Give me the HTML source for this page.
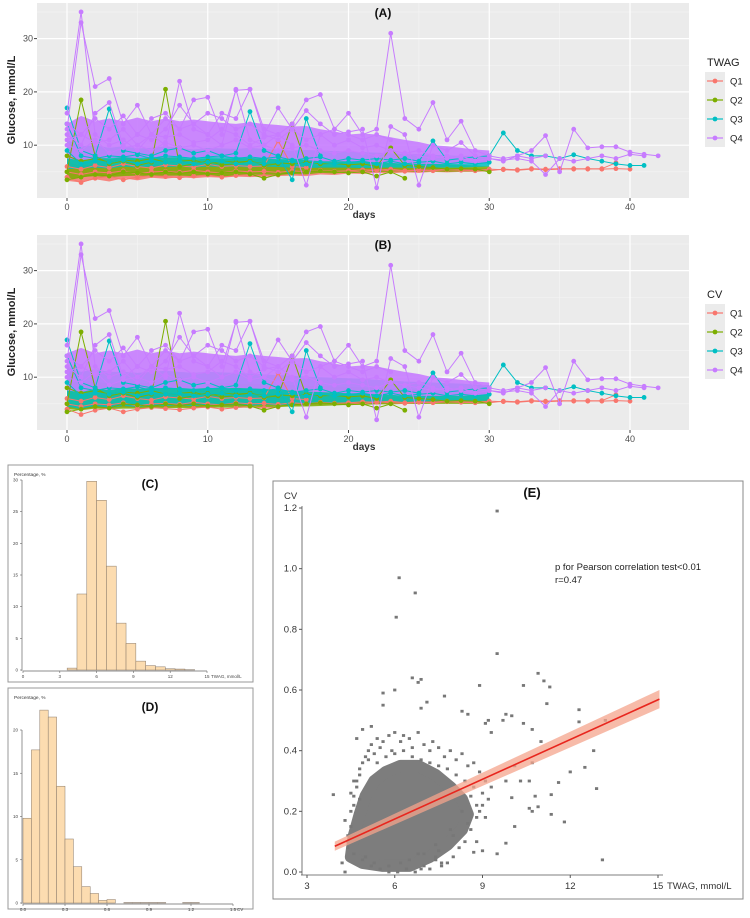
<!DOCTYPE html>
<html><head><meta charset="utf-8">
<style>
html,body{margin:0;padding:0;background:#fff;}
svg{display:block;font-family:"Liberation Sans",sans-serif;}
</style></head>
<body>
<svg id="fig" width="750" height="918" viewBox="0 0 750 918"></svg>
<script>
// ---------- data: panels A/B (glucose trajectories) ----------
const quartiles = ['Q1','Q2','Q3','Q4'];
const qColors = ['#F8766D','#7CAE00','#00BFC4','#C77CFF'];
const envDays = [0,1,2,3,4,5,6,7,8,9,10,11,12,13,14,15,16,17,18,19,20,21,22,23,24,25,26,27,28,29,30];
// density envelopes (panel A, TWAG groups)
const aLo = [
 [3.3,3.0,3.6,3.2,3.8,3.4,3.9,3.7,4.0,3.8,4.0,3.9,4.1,4.0,4.1,4.2,4.3,4.2,4.5,4.4,4.7,4.6,4.8,4.7,4.9,4.8,5.0,4.9,5.0,5.0,5.1],
 [3.6,4.0,4.2,4.0,4.2,4.3,4.2,4.3,4.3,4.2,4.3,4.1,4.3,4.4,4.5,4.4,4.6,4.5,4.8,4.7,5.0,4.9,5.0,5.0,5.0,5.0,5.1,5.0,5.1,5.1,5.2],
 [5.5,5.6,5.8,5.6,6.0,5.8,6.0,5.9,6.0,5.8,6.0,5.9,6.0,5.8,6.0,5.9,5.8,5.7,5.8,5.8,5.8,5.7,5.8,5.8,5.8,5.7,5.8,5.8,5.8,5.9,6.0]];
const aHi = [
 [6.8,6.2,6.5,6.0,6.3,6.1,6.2,6.3,6.2,6.0,6.2,6.1,6.2,6.0,6.0,6.1,6.0,5.9,6.0,6.0,6.0,5.9,5.9,5.8,5.8,5.8,5.8,5.7,5.7,5.7,5.6],
 [8.5,7.6,8.0,7.4,7.8,7.5,7.6,7.8,7.6,7.3,7.5,7.4,7.5,7.6,7.5,7.3,7.3,7.2,7.2,7.1,7.0,7.0,7.0,6.9,6.8,6.7,6.5,6.4,6.3,6.2,6.0],
 [11,9.8,10,9.5,9.8,9.4,9.5,9.8,9.5,9.2,9.5,9.4,9.3,9.5,9.3,9.1,9.0,9.1,9.0,8.9,8.8,8.7,8.6,8.5,8.4,8.3,8.2,8.1,8.0,8.0,8.0],
 [14,15.5,14.5,15,14.5,15.2,14.5,15,14.5,14.8,14.5,14.2,14,14.3,14,13.8,13.5,13.6,13,12.6,12,12.2,12,11.5,11,10.6,10,9.8,9.5,9.2,9]];
const aQ4Lo = [7.5,7.2,7.5,7.6,7.8,7.6,7.8,7.7,7.8,7.6,7.8,7.7,7.8,7.6,7.5,7.4,7.5,7.2,7,7,7,6.9,6.8,6.7,6.5,6.5,6.5,6.5,6.5,6.6,6.8];
// density envelopes (panel B, CV groups)
const bLo = [
 [4.3,4.0,4.3,4.2,4.4,4.3,4.4,4.4,4.5,4.4,4.5,4.5,4.6,4.6,4.7,4.7,4.8,4.8,4.9,4.9,5,5,5,5,5,5,5.1,5.1,5.1,5.1,5.2],
 [4.0,3.8,4.1,4.0,4.1,4.1,4.2,4.2,4.2,4.2,4.3,4.3,4.3,4.3,4.4,4.4,4.5,4.5,4.6,4.7,4.8,4.8,4.9,4.9,5,5,5,5,5,5,5.1],
 [4.5,4.0,4.5,4.2,4.6,4.4,4.7,4.6,4.7,4.6,4.8,4.7,4.8,4.6,4.9,4.7,5,5.1,5.2,5.2,5.3,5.3,5.4,5.4,5.4,5.4,5.5,5.5,5.5,5.5,5.6]];
const bHi = [
 [7.5,7.0,7.3,7.0,7.2,7.0,7.0,7.1,7.0,6.9,7,6.9,6.9,6.8,6.8,6.8,6.7,6.7,6.6,6.6,6.5,6.5,6.4,6.3,6.2,6.1,6,6,6,5.9,5.8],
 [9.5,8.8,9.2,8.8,9,8.8,9,9.1,9,8.8,9,8.9,8.8,8.8,8.7,8.6,8.5,8.4,8.3,8.3,8.2,8.1,8,7.9,7.8,7.7,7.6,7.5,7.4,7.3,7.2],
 [12,11,11.5,11,11,10.8,11,11.2,11,10.8,11,10.9,10.8,10.7,10.5,10.4,10.3,10.1,10,9.9,9.8,9.7,9.5,9.4,9.2,9.1,9,8.9,8.8,8.6,8.5],
 [14.5,15.5,14.5,15,14.5,15.2,14.5,15,14.5,14.8,14.5,14.2,14,14.3,14,13.8,13.5,13.6,13,12.6,12,12.2,12,11.5,11,10.6,10,9.8,9.5,9.2,9]];
const bQ4Lo = [7.5,7.2,7.8,7.6,8,7.8,8,7.9,8,7.8,8,7.9,8,7.9,7.8,7.6,7.5,7.3,7.2,7.1,7,6.9,6.8,6.7,6.5,6.5,6.5,6.5,6.5,6.6,6.8];
// individual trajectories: start day + consecutive daily values
const trajQ1 = [
 {s:0,v:[5,4.5,5,4.8,5.2,4.6,5,5.1,4.9,5.3,5,4.8,5.2,5,5.1,4.9,5.2,5,5.3,5.1,5.2,5,5.4,5.2,5.1,5.3,5.2,5.4,5.3,5.2,5.5,5.4,5.3,5.5,5.4,5.5,5.6,5.5,5.6,6.7]},
 {s:0,v:[4,3,3.8,4.2,3.5,4,4.3,4.1,3.9,4.2,4.4,4,4.3,4.5,4.2,4.4]},
 {s:0,v:[6,5.5,6.2,5.8,6.5,6,5.7,6.3,6.1,5.9,6.4,6,6.2,6,6.1,10.8,6,5.8]},
 {s:20,v:[5.2,5.4,5.3,5.5,5.2,5.4,5.3,5.5,5.4,5.3,5.2,5.5,5.4,5.6,5.5,5.6,5.5,5.6,5.5,5.6,5.5]}];
const trajQ2 = [
 {s:0,v:[5,18.5,8,6.5,7,6.2,6.8,20.5,6,6.5,7,6.3,6.5,7,6.2,6.5,14,6.5]},
 {s:0,v:[3.5,4,4.5,4.2,5,4.8,4.5,5,4.7,5,4.6,4.8,5,4.6,3.8,4.5,4.8,5,5.2,5,4.8,5,4.2,5,3.8]},
 {s:0,v:[8,7,7.5,6.8,7.2,7,7.5,6.8,7,7.2,6.5,7,6.8,7,6.5,6.7,6.5,6.8,6.5,6.6,6.3,6.5,6,9.5,6.2,6,5.8,5.5,5.6,5.5,5]}];
const trajQ3 = [
 {s:0,v:[17,9,8,16.8,9,8.5,8,9,9.5,8.5,9,8,8.5,16.3,9,8,3.5,15,8]},
 {s:0,v:[14,8,7.5,8,7.8,8.2,7.5,8,7.8,7.5,7.8,8,7.5,7.8,7.5,7.8,7.2,7.5,7.8,7,7.5,7.2,7.5,7.2,7.5,7,10.8,7.2,7.5,7.8,8,12.3,9,8,8,7.5,8.2,7.5,7,6.5,6.2,6.2]},
 {s:0,v:[9,6.5,7,6.8,7.2,6.5,7,6.8,7,6.5,6.8,7,6.5,6.8,6.5,6.8,7,6.5,6.8,6.5,6.8,7,6.5,7,6.5,6.8,7,6.5,6.8,6.5,6.8]}];
const trajQ4 = [
 {s:0,v:[16,35,12,10,11,9,12,10,22,13,12,10,20.5,11,10,12]},
 {s:0,v:[13,33,21,22.5,14,17.5,12,15,13,18.5,19,12,20.3,20.5,13,12,14,18.5,19.5,13,16,12,13,31,15,13,18,11,14.5,9,8,7.5,8,9,11.8,5,13,9.5,9.7,9.7,8.7,8.3,8]},
 {s:0,v:[12,10,16,18,10,12,11,13,17.5,14,12,16,15,20.5,12,11,13,16.5,14,12,12.5,13,2,13.5,12,2.5,10,9,10.5,8,7.5,7,8,7.5,8]},
 {s:0,v:[11,12,10.5,11,13,10,12,11.5,12,10.5,11,13,12,10,11.5,12,10,2.5,12,10,11,9.5,10,9,8.5,9,8,7.5,8,7,7.5]},
 {s:0,v:[10,9,11,8.5,9.5,10,9,10.5,9.5,10,9,10,11,9.5,10,9,9.5,10,9,8.5,9,8.5,8,9,8.5,8,7.5,8,7.5,7,7.5,7.2,7.5,7,4.5,7.5,7,7.5,8,7.5,8.3,8]},
 {s:0,v:[14,12,15,13,15.5,12,15,16,13,14,16,15,13,14,12,17,13,11,12,13,12,11,12,11]}];
const trajs = [trajQ1,trajQ2,trajQ3,trajQ4];
const xTicksDays = [0,10,20,30,40];
const yTicksGlu = [10,20,30];

// ---------- data: histograms C, D ----------
const histCStart = 3.6, histCWidth = 0.8;
const histCPct = [0.3,12,29.8,26.8,16.4,7.4,4.2,1.4,0.7,0.5,0.2,0.15,0.05];
const histCTicks = [0,3,6,9,12,15];
const histCYTicks = [0,5,10,15,20,25,30];
const histDStart = 0, histDWidth = 0.06;
const histDPct = [9.8,17.7,22.3,21.5,13.5,7.4,4.2,1.9,1.1,0.3,0.4,0,0.05,0.05,0.05,0.05,0.05,0,0,0.05,0.05];
const histDTicks = [0,0.3,0.6,0.9,1.2,1.5];
const histDYTicks = [0,5,10,15,20];

// ---------- data: scatter E ----------
const eX = [9.5,6.15,6.7,6.05,9.5,10.9,11.1,10.4,11.3,8.9,6.6,6.9,6.8,6.0,5.6,11.2,7.7,12.3,12.3,13.2,12.8,12.5,12.0,12.9,11.6,11.35,11.35,11.8,13.1,10.1,9.5,9.8,10.6,10.9,10.7,10.0,10.8,10.4,10.7,11.0,9.8,10.0,9.7,9.2,8.3,8.5,7.1,6.9,5.6,5.2,4.7,4.9,3.9,4.3,4.2,10.7,10.3,10.6,10.1,9.8,9.1,9.3,8.8,9.0,8.7,7.6,7.4,6.9,
 4.3,4.4,4.5,4.4,4.6,4.5,4.7,4.6,4.8,4.7,4.9,5.0,5.1,5.2,5.3,5.4,5.5,5.6,5.8,5.9,6.0,6.2,6.3,6.5,6.6,6.8,7.0,7.2,7.3,7.5,7.7,7.9,8.1,8.3,8.5,8.7,8.9,9.1,9.3,9.0,8.8,8.6,8.4,8.2,8.0,7.8,7.6,7.4,7.2,7.0,6.7,6.4,6.1,5.8,5.5,5.2,4.9,4.6,4.5,4.8,5.1,5.4,5.7,6.0,6.3,6.6,6.9,7.2,7.5,7.8,8.1,8.4,8.7,9.0,9.2,8.9,8.5,8.0,7.5,7.0,6.5,5.0,5.3,5.8,6.2,6.8,7.4,7.9,8.3,8.6,8.8,9.1,4.4,4.6,4.8,5.0],
eY = [1.19,0.97,0.92,0.84,0.72,0.655,0.63,0.615,0.61,0.615,0.64,0.635,0.625,0.6,0.59,0.555,0.58,0.535,0.495,0.5,0.4,0.345,0.33,0.275,0.295,0.255,0.19,0.165,0.04,0.15,0.06,0.095,0.21,0.215,0.2,0.245,0.25,0.49,0.47,0.43,0.52,0.515,0.5,0.5,0.53,0.52,0.56,0.54,0.55,0.48,0.44,0.47,0.255,0.0,0.03,0.36,0.3,0.3,0.35,0.3,0.49,0.46,0.1,0.07,0.065,0.03,0.05,0.01,
 0.17,0.12,0.2,0.08,0.25,0.15,0.28,0.22,0.32,0.3,0.36,0.38,0.4,0.42,0.39,0.44,0.41,0.43,0.45,0.4,0.46,0.43,0.45,0.44,0.41,0.46,0.42,0.4,0.43,0.41,0.38,0.4,0.37,0.39,0.35,0.36,0.33,0.3,0.28,0.22,0.18,0.14,0.1,0.08,0.05,0.03,0.02,0.04,0.01,0.02,0.0,0.01,0.0,0.0,0.01,0.02,0.04,0.06,0.26,0.34,0.37,0.36,0.38,0.39,0.4,0.38,0.37,0.36,0.35,0.34,0.32,0.3,0.28,0.26,0.24,0.2,0.16,0.12,0.07,0.06,0.04,0.05,0.03,0.02,0.03,0.06,0.09,0.14,0.2,0.25,0.22,0.18,0.1,0.3,0.24,0.05];
// dense core outline of the scatter cloud
const coreX = [4.5,4.6,4.8,5.0,5.3,5.7,6.2,6.8,7.4,7.9,8.3,8.5,8.3,7.8,7.2,6.5,5.6,4.9];
const coreY = [0.05,0.12,0.19,0.25,0.3,0.33,0.35,0.35,0.32,0.28,0.24,0.19,0.14,0.09,0.05,0.02,0.02,0.03];
const fitX = [3.95,15.05];
const fitY = [0.085,0.57];
const fitBand = [0.015,0.03];
const eXTicks = [3,6,9,12,15];
const eYTicks = [0,0.2,0.4,0.6,0.8,1.0,1.2];

// ---------- drawing ----------
const NS='http://www.w3.org/2000/svg';
const svg=document.getElementById('fig');
function mk(tag,attrs,parent){const e=document.createElementNS(NS,tag);for(const k in attrs)e.setAttribute(k,attrs[k]);(parent||svg).appendChild(e);return e;}
function txt(s,x,y,attrs,parent){const t=mk('text',Object.assign({x:x,y:y},attrs),parent);t.textContent=s;return t;}

function drawGG(dy,title,legendTitle,lo,hi,name){
  const g=mk('g',{});
  
  
  const L=37,R=689,T=3+dy,B=198+dy;
  const x=d=>67+d*(630-67)/40;
  const y=v=>198.5+dy-v*5.33;
  const bg=mk('rect',{x:L,y:T,width:R-L,height:B-T,fill:'#EBEBEB'},g);
  
  
  for(let d=5;d<=45;d+=10){if(x(d)<R)mk('line',{x1:x(d),x2:x(d),y1:T,y2:B,stroke:'#F5F5F5','stroke-width':0.6},g);}
  for(let v=5;v<=35;v+=10){mk('line',{x1:L,x2:R,y1:y(v),y2:y(v),stroke:'#F5F5F5','stroke-width':0.6},g);}
  xTicksDays.forEach(d=>{mk('line',{x1:x(d),x2:x(d),y1:T,y2:B,stroke:'#fff','stroke-width':1.2},g);
    mk('line',{x1:x(d),x2:x(d),y1:B,y2:B+3,stroke:'#444'},g);
    const t=txt(String(d),x(d),B+12,{'font-size':9,fill:'#4D4D4D','text-anchor':'middle'},g);
    });
  yTicksGlu.forEach(v=>{mk('line',{x1:L,x2:R,y1:y(v),y2:y(v),stroke:'#fff','stroke-width':1.2},g);
    mk('line',{x1:L-3,x2:L,y1:y(v),y2:y(v),stroke:'#444'},g);
    const t=txt(String(v),L-4,y(v)+3,{'font-size':9,fill:'#4D4D4D','text-anchor':'end'},g);
    });
  for(let q=0;q<4;q++){
    let p='';
    envDays.forEach((d,i)=>{p+=(i?'L':'M')+x(d)+','+y(hi[q][i]);});
    for(let i=envDays.length-1;i>=0;i--)p+='L'+x(envDays[i])+','+y(lo[q][i]);
    const a=mk('path',{d:p+'Z',fill:qColors[q],'fill-opacity':q==3?0.9:0.85},g);
    
    
  }
  for(let q=0;q<4;q++){
    trajs[q].forEach(tr=>{
      const pts=tr.v.map((v,i)=>[x(tr.s+i),y(v)]);
      const pl=mk('polyline',{points:pts.map(p=>p.join(',')).join(' '),fill:'none',stroke:qColors[q],'stroke-width':1},g);
      
      
      pts.forEach(p=>{mk('circle',{cx:p[0],cy:p[1],r:2.4,fill:qColors[q]},g);});
    });
  }
  const tt=txt(title,383,17+dy,{'font-size':12,'font-weight':'bold',fill:'#111','text-anchor':'middle'},g);
  
  const xl=txt('days',364,218+dy,{'font-size':10,'font-weight':'bold',fill:'#333','text-anchor':'middle'},g);
  
  const yl=txt('Glucose, mmol/L',0,0,{'font-size':11,'font-weight':'bold',fill:'#222','text-anchor':'middle',transform:'translate(15,'+(100+dy)+') rotate(-90)'},g);
  
  const lg=mk('g',{},g);
  
  
  txt(legendTitle,707,66+dy,{'font-size':11,fill:'#222'},lg);
  mk('rect',{x:705,y:72+dy,width:20,height:75,fill:'#EBEBEB'},lg);
  quartiles.forEach((q,i)=>{const cy=81+dy+i*19;
    const e=mk('g',{},lg);
    
    
    mk('line',{x1:707,x2:723,y1:cy,y2:cy,stroke:qColors[i],'stroke-width':1.2},e);
    mk('circle',{cx:715,cy:cy,r:2.4,fill:qColors[i]},e);
    txt(q,730,cy+3.5,{'font-size':9.5,fill:'#222'},e);});
}
drawGG(0,'(A)','TWAG',aLo.concat([aQ4Lo]),aHi,'panel-a-twag');
drawGG(232,'(B)','CV',bLo.concat([bQ4Lo]),bHi,'panel-b-cv');

function drawHist(box,x0,x1,v0,v1,yb,yt,ymax,start,w,vals,xt,yt2,xlab,title,name,fmt){
  const g=mk('g',{});
  
  
  mk('rect',{x:box[0],y:box[1],width:box[2],height:box[3],fill:'#fff',stroke:'#999','stroke-width':1},g);
  const x=v=>x0+(v-v0)*(x1-x0)/(v1-v0);
  const y=p=>yb-p*(yb-yt)/ymax;
  vals.forEach((p,i)=>{if(p<=0)return;
    const r=mk('rect',{x:x(start+i*w),y:y(p),width:x(start+(i+1)*w)-x(start+i*w),height:yb-y(p),fill:'#FCDCB0',stroke:'#8a7a6a','stroke-width':0.5},g);
    
    });
  mk('line',{x1:x0,x2:x1,y1:yb+1,y2:yb+1,stroke:'#666','stroke-width':0.7},g);
  mk('line',{x1:x0-1,x2:x0-1,y1:yb+1,y2:y(yt2[yt2.length-1]),stroke:'#666','stroke-width':0.7},g);
  xt.forEach(v=>{mk('line',{x1:x(v),x2:x(v),y1:yb+1,y2:yb+3,stroke:'#666','stroke-width':0.6},g);
    txt(fmt(v),x(v),yb+8,{'font-size':4.5,fill:'#444','text-anchor':'middle'},g);});
  yt2.forEach(v=>{mk('line',{x1:x0-3,x2:x0-1,y1:y(v),y2:y(v),stroke:'#666','stroke-width':0.6},g);
    txt(String(v),x0-5,y(v)+1.5,{'font-size':4.5,fill:'#444','text-anchor':'end'},g);});
  txt(xlab,x1+4,yb+8,{'font-size':4.5,fill:'#444'},g);
  txt('Percentage, %',14,box[1]+11,{'font-size':4.8,fill:'#333'},g);
  const t=txt(title,150,box[1]+23,{'font-size':12,'font-weight':'bold',fill:'#111','text-anchor':'middle'},g);
  
}
drawHist([8,465,245,217],23,207,0,15,670,480,30,histCStart,histCWidth,histCPct,histCTicks,histCYTicks,'TWAG, mmol/L','(C)','panel-c-histogram',v=>String(v));
drawHist([8,688,245,221],23,233,0,1.5,903,730,20,histDStart,histDWidth,histDPct,histDTicks,histDYTicks,'CV','(D)','panel-d-histogram',v=>v.toFixed(1));

(function(){
  const g=mk('g',{});
  
  
  mk('rect',{x:273,y:481,width:470,height:418,fill:'#fff',stroke:'#888','stroke-width':1},g);
  const x=v=>307+(v-3)*(658-307)/12;
  const y=c=>872-c*(872-508)/1.2;
  mk('line',{x1:301,x2:663,y1:875,y2:875,stroke:'#555','stroke-width':0.8},g);
  mk('line',{x1:302,x2:302,y1:875,y2:506,stroke:'#555','stroke-width':0.8},g);
  eXTicks.forEach(v=>{mk('line',{x1:x(v),x2:x(v),y1:875,y2:878,stroke:'#555'},g);
    const t=txt(String(v),x(v),889,{'font-size':9.5,fill:'#333','text-anchor':'middle'},g);
    });
  eYTicks.forEach(v=>{mk('line',{x1:299,x2:302,y1:y(v),y2:y(v),stroke:'#555'},g);
    const t=txt(v.toFixed(1),297,y(v)+3,{'font-size':9.5,fill:'#333','text-anchor':'end'},g);
    });
  const xl=txt('TWAG, mmol/L',667,889,{'font-size':9.5,fill:'#333'},g);
  
  const yl=txt('CV',284,499,{'font-size':9.5,fill:'#333'},g);
  
  const tt=txt('(E)',532,497,{'font-size':13,'font-weight':'bold',fill:'#111','text-anchor':'middle'},g);
  
  let p='';coreX.forEach((v,i)=>{p+=(i?'L':'M')+x(v)+','+y(coreY[i]);});
  const core=mk('path',{d:p+'Z',fill:'#7d7d7d',stroke:'#7d7d7d','stroke-width':12,'stroke-linejoin':'round'},g);
  
  
  eX.forEach((v,i)=>{const c=mk('rect',{x:x(v)-1.6,y:y(eY[i])-1.4,width:3.2,height:2.8,fill:'#777'},g);
    
    });
  const b=mk('path',{d:'M'+x(fitX[0])+','+y(fitY[0]-fitBand[0])+'L'+x(fitX[1])+','+y(fitY[1]-fitBand[1])+'L'+x(fitX[1])+','+y(fitY[1]+fitBand[1])+'L'+x(fitX[0])+','+y(fitY[0]+fitBand[0])+'Z',fill:'#F4A48C','fill-opacity':0.75},g);
  
  
  const l=mk('line',{x1:x(fitX[0]),y1:y(fitY[0]),x2:x(fitX[1]),y2:y(fitY[1]),stroke:'#E8261E','stroke-width':1.6},g);
  
  
  const a1=txt('p for Pearson correlation test<0.01',555,570,{'font-size':9.5,fill:'#222'},g);
  
  const a2=txt('r=0.47',555,583,{'font-size':9.5,fill:'#222'},g);
  
})();
</script>
</body></html>
